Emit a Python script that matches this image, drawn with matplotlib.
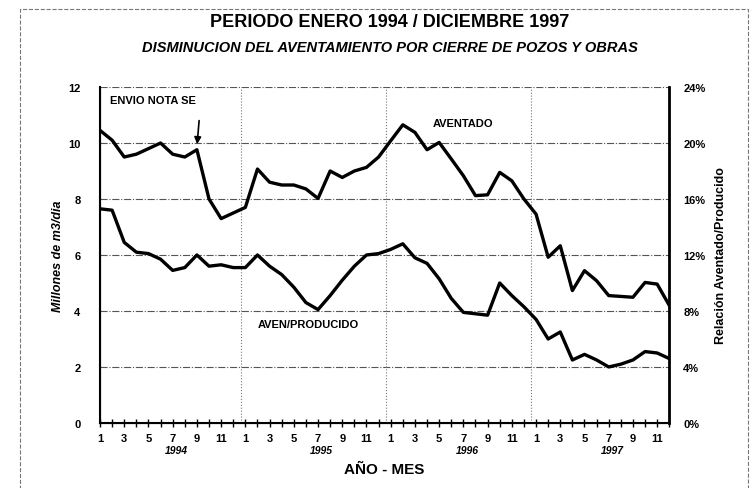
import numpy as np
import matplotlib.pyplot as plt
from matplotlib.patches import Rectangle

plt.rcParams['font.family'] = ['Liberation Sans', 'DejaVu Sans']

# --- datos: enero 1994 a diciembre 1997 (48 meses) ---
meses = list(range(1, 13)) * 4
anios = ['1994', '1995', '1996', '1997']

# aventado, millones de m3/dia (eje izquierdo)
aventado = [10.45, 10.1, 9.5, 9.6, 9.8, 10.0, 9.6, 9.5, 9.76, 8.0, 7.3, 7.5,
            7.7, 9.07, 8.6, 8.5, 8.5, 8.36, 8.02, 9.0, 8.77, 9.0, 9.13, 9.5,
            10.08, 10.65, 10.38, 9.76, 10.02, 9.43, 8.83, 8.12, 8.15, 8.95, 8.65, 8.0,
            7.46, 5.92, 6.33, 4.73, 5.44, 5.08, 4.55, 4.52, 4.49, 5.02, 4.96, 4.2]

# relacion aventado/producido, % (eje derecho)
relacion = [15.3, 15.2, 12.9, 12.2, 12.1, 11.7, 10.9, 11.1, 12.0, 11.2, 11.3, 11.1,
            11.1, 12.0, 11.2, 10.6, 9.7, 8.6, 8.1, 9.1, 10.2, 11.2, 12.0, 12.1,
            12.4, 12.8, 11.8, 11.4, 10.3, 8.9, 7.9, 7.8, 7.7, 10.0, 9.1, 8.3,
            7.4, 6.0, 6.5, 4.5, 4.9, 4.5, 4.0, 4.2, 4.5, 5.1, 5.0, 4.6]

x = np.arange(len(aventado))

fig = plt.figure(figsize=(7.52, 4.89), dpi=100)
ax = fig.add_axes([0.133, 0.133, 0.757, 0.687])
ax2 = ax.twinx()

ax.plot(x, aventado, color='black', lw=2.4, solid_joinstyle='round', zorder=3)
ax2.plot(x, relacion, color='black', lw=2.4, solid_joinstyle='round', zorder=3)

ax.set_xlim(0, 47)
ax.set_ylim(0, 12)
ax2.set_ylim(0, 24)

# rejilla
for v in [2, 4, 6, 8, 10, 12]:
    ax.axhline(v, color='#555555', lw=0.8, ls='-.', zorder=1)
for v in [11.6, 23.6, 35.6]:
    ax.axvline(v, color='#777777', lw=0.8, ls=':', zorder=1)

# ejes
for a in (ax, ax2):
    a.spines['top'].set_visible(False)
ax.spines['left'].set_linewidth(1.5)
ax.spines['bottom'].set_linewidth(1.5)
ax2.spines['right'].set_linewidth(2.0)

ax.set_xticks(x)
ax.set_xticklabels([str(m) if m % 2 == 1 else '' for m in meses],
                   fontweight='bold', fontsize=8)
ax.tick_params(axis='x', direction='inout', length=6, width=1, pad=4)
ax.set_yticks([0, 2, 4, 6, 8, 10, 12])
ax.set_yticklabels([str(v) for v in [0, 2, 4, 6, 8, 10, 12]],
                   fontweight='bold', fontsize=8)
ax.tick_params(axis='y', length=0, pad=14)
ax2.set_yticks([0, 4, 8, 12, 16, 20, 24])
ax2.set_yticklabels([f'{v}%' for v in [0, 4, 8, 12, 16, 20, 24]],
                    fontweight='bold', fontsize=8)
ax2.tick_params(axis='y', length=0, pad=10)

for i, a in enumerate(anios):
    ax.text(6.3 + 12 * i, -0.95, a, ha='center', va='center',
            fontsize=7.5, fontweight='bold', fontstyle='italic')

ax.set_xlabel('AÑO - MES', fontsize=11, fontweight='bold', labelpad=14)
ax.set_ylabel('Millones de m3/dia', fontsize=9, fontweight='bold',
              fontstyle='italic', labelpad=3)
ax2.set_ylabel('Relación Aventado/Producido', fontsize=9, fontweight='bold',
               labelpad=7)

# anotaciones
ax.annotate('', xy=(8, 9.86), xytext=(8.2, 10.9),
            arrowprops=dict(arrowstyle='-|>', color='black', lw=1.2,
                            mutation_scale=10))
ax.text(0.8, 11.55, 'ENVIO NOTA SE', fontsize=8, fontweight='bold', va='center')
ax.text(27.5, 10.7, 'AVENTADO', fontsize=8, fontweight='bold', va='center')
ax.text(13.0, 3.55, 'AVEN/PRODUCIDO', fontsize=8, fontweight='bold', va='center')

# titulos
fig.text(0.518, 0.953, 'PERIODO ENERO 1994 / DICIEMBRE 1997', ha='center',
         va='center', fontsize=13, fontweight='bold')
fig.text(0.518, 0.902, 'DISMINUCION DEL AVENTAMIENTO POR CIERRE DE POZOS Y OBRAS',
         ha='center', va='center', fontsize=10.5, fontweight='bold',
         fontstyle='italic')

# marco exterior
fig.patches.append(Rectangle((0.027, -0.05), 0.968, 1.03, transform=fig.transFigure,
                             fill=False, ec='#777777', lw=0.8, ls='--'))

fig.savefig('out.png', dpi=100)
